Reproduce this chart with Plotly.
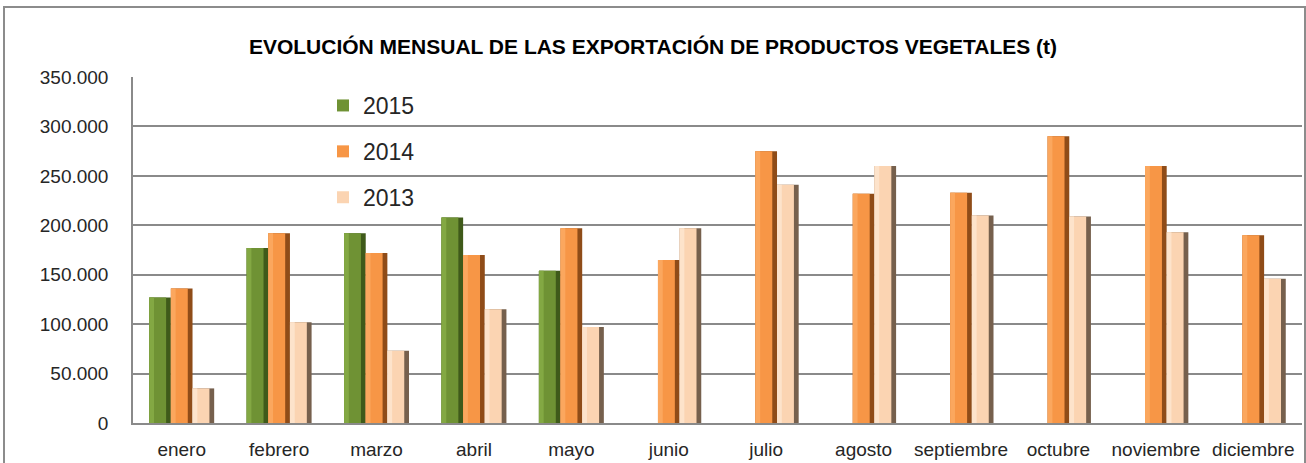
import plotly.graph_objects as go

months = ["enero", "febrero", "marzo", "abril", "mayo", "junio", "julio",
          "agosto", "septiembre", "octubre", "noviembre", "diciembre"]
series_names = ["2015", "2014", "2013"]
v2015 = [127000, 177000, 192000, 208000, 154000, None, None, None, None, None, None, None]
v2014 = [136000, 192000, 172000, 170000, 197000, 165000, 275000, 232000, 233000, 290000, 260000, 190000]
v2013 = [35000, 102000, 73000, 115000, 97000, 197000, 241000, 260000, 210000, 209000, 193000, 146000]
y_ticks = [0, 50000, 100000, 150000, 200000, 250000, 300000, 350000]
y_tick_text = ["0", "50.000", "100.000", "150.000", "200.000", "250.000", "300.000", "350.000"]

values = [v2015, v2014, v2013]
main_colors = ["#6f9234", "#f79646", "#fbd4b2"]
dark_colors = ["#3f5a1a", "#8f4c18", "#76604d"]
light_colors = ["#83a843", "#fba75e", "#fde3cb"]

W, H = 1306, 463
ml, mr, mt, mb = 133, 4, 77, 40
pw, ph = W - ml - mr, H - mt - mb

gap = 1 / 3
bw = (1 - gap) / 3

fig = go.Figure()
for i, (name, vals) in enumerate(zip(series_names, values)):
    off = -(1 - gap) / 2 + i * bw
    fig.add_trace(go.Bar(x=months, y=vals, name=name, legendgroup=name, showlegend=False,
                         width=bw, offset=off, marker=dict(color=dark_colors[i], line=dict(width=0)),
                         hoverinfo="skip"))
    fig.add_trace(go.Bar(x=months, y=vals, name=name, legendgroup=name, showlegend=True,
                         width=bw * 0.78, offset=off, marker=dict(color=main_colors[i], line=dict(width=0))))
    fig.add_trace(go.Bar(x=months, y=vals, name=name, legendgroup=name, showlegend=False,
                         width=bw * 0.22, offset=off, marker=dict(color=light_colors[i], line=dict(width=0)),
                         hoverinfo="skip"))

fig.update_layout(
    width=W, height=H,
    margin=dict(l=ml, r=mr, t=mt, b=mb),
    paper_bgcolor="white", plot_bgcolor="white",
    barmode="overlay",
    font=dict(family="Liberation Sans, Arial, sans-serif", color="#262626"),
    title=dict(text="<b>EVOLUCIÓN MENSUAL DE LAS EXPORTACIÓN DE PRODUCTOS VEGETALES (t)</b>",
               x=0.5, xanchor="center", xref="container", y=1 - 47 / H, yanchor="middle",
               font=dict(size=21, color="#000000", family="Liberation Sans, Arial, sans-serif")),
    legend=dict(x=(323 - ml) / pw, y=(H - mb - 84) / ph, xanchor="left", yanchor="top",
                bgcolor="rgba(0,0,0,0)", font=dict(size=23, color="#262626"),
                tracegroupgap=13, traceorder="grouped"),
    xaxis=dict(showgrid=False, showline=True, linecolor="#8a8a8a", linewidth=1.5,
               ticks="", tickfont=dict(size=19), ticklabelstandoff=8),
    yaxis=dict(range=[0, 350000], tickvals=y_ticks, ticktext=y_tick_text,
               showgrid=True, gridcolor="#8a8a8a", gridwidth=1.5,
               showline=True, linecolor="#8a8a8a", linewidth=1.5, zeroline=False,
               ticks="", tickfont=dict(size=19), ticklabelstandoff=19),
    shapes=[dict(type="rect", xref="paper", yref="paper",
                 x0=(4 - ml) / pw, x1=(1305 - ml) / pw,
                 y0=-(mb + 20) / ph, y1=(H - mb - 7) / ph,
                 line=dict(color="#8c8c8c", width=2), fillcolor="rgba(0,0,0,0)", layer="below")],
)

fig.write_html("out.html", config={"displayModeBar": False},
               post_script="document.body.style.margin='0';document.body.style.overflow='hidden';")
